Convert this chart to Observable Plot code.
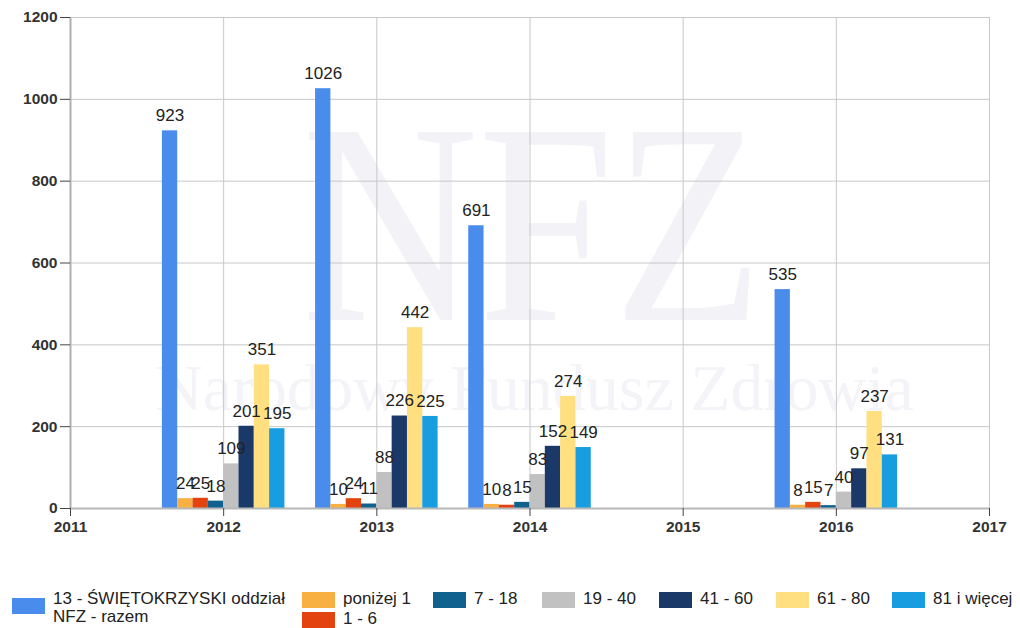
<!DOCTYPE html>
<html><head><meta charset="utf-8">
<script src="https://cdn.jsdelivr.net/npm/d3@7"></script>
<script src="https://cdn.jsdelivr.net/npm/@observablehq/plot@0.6"></script>
<style>
body{margin:0;background:#fff;font-family:"Liberation Sans",Arial,sans-serif;}
#wrap{position:relative;width:1020px;height:628px;overflow:hidden;}
#wm{position:absolute;left:0;top:0;width:1020px;height:560px;z-index:0;pointer-events:none;}
#wm .nfz{position:absolute;left:302px;top:80px;font-family:"Liberation Serif","DejaVu Serif",serif;font-size:287px;line-height:1;color:#f2f2f7;transform:scaleX(0.85);transform-origin:left top;white-space:nowrap;}
#wm .full{position:absolute;left:155px;top:355px;font-family:"Liberation Serif","DejaVu Serif",serif;font-size:66px;line-height:1;color:#f3f3f8;white-space:nowrap;}
#chart{position:absolute;left:0;top:0;z-index:1;}
#legend{position:absolute;left:0;top:590px;width:1020px;font-size:17px;color:#222;z-index:2;}
.li{position:absolute;display:flex;align-items:flex-start;line-height:18px;}
.sw{width:33px;height:16px;margin-right:8px;margin-top:2px;flex:none;}
</style></head><body>
<div id="wrap">
  <div id="wm"><div class="nfz">NFZ</div><div class="full">Narodowy Fundusz Zdrowia</div></div>
  <div id="chart"></div>
  <div id="legend"></div>
</div>
<script>
const years = [2012, 2013, 2014, 2016];
const seriesNames = ["13 - ŚWIĘTOKRZYSKI oddział NFZ - razem", "poniżej 1", "1 - 6", "7 - 18", "19 - 40", "41 - 60", "61 - 80", "81 i więcej"];
const seriesColors = ["#4a8cec", "#f9b043", "#e2430f", "#10618e", "#c1c1c1", "#1a3868", "#ffdf80", "#189de0"];
const razem    = [923, 1026, 691, 535];
const ponizej1 = [24, 10, 10, 8];
const age1_6   = [25, 24, 8, 15];
const age7_18  = [18, 11, 15, 7];
const age19_40 = [109, 88, 83, 40];
const age41_60 = [201, 226, 152, 97];
const age61_80 = [351, 442, 274, 237];
const age81    = [195, 225, 149, 131];
const yTicks = [0, 200, 400, 600, 800, 1000, 1200];
const xTicks = [2011, 2012, 2013, 2014, 2015, 2016, 2017];

const seriesValues = [razem, ponizej1, age1_6, age7_18, age19_40, age41_60, age61_80, age81];
const rows = [];
seriesValues.forEach((vals, si) => {
  years.forEach((yr, yi) => rows.push({year: yr, s: si, name: seriesNames[si], value: vals[yi]}));
});
const bw = 0.1;

const chart = Plot.plot({
  width: 1020,
  height: 560,
  marginLeft: 70,
  marginRight: 31,
  marginTop: 17,
  marginBottom: 52,
  style: {background: "transparent", fontFamily: "Liberation Sans, Arial, sans-serif"},
  x: {domain: [2011, 2017], ticks: xTicks, tickFormat: "d", label: null},
  y: {domain: [0, 1200], ticks: yTicks, tickFormat: "d", label: null},
  color: {domain: seriesNames, range: seriesColors},
  marks: [
    Plot.gridY(yTicks, {stroke: "#c8c8c8", strokeOpacity: 1, strokeWidth: 1}),
    Plot.gridX(xTicks, {stroke: "#c8c8c8", strokeOpacity: 1, strokeWidth: 1}),
    Plot.rectY(rows, {
      x1: d => d.year + (d.s - 4) * bw,
      x2: d => d.year + (d.s - 3) * bw,
      y1: 0, y2: "value", fill: "name"
    }),
    Plot.text(rows, {
      x: d => d.year + (d.s - 3.5) * bw,
      y: "value", text: d => String(d.value),
      dy: -15, fontSize: 17, fill: "#222"
    }),
    Plot.ruleY([0], {stroke: "#b8b8b8", strokeWidth: 2}),
    Plot.ruleX([2011], {stroke: "#b0b0b0", strokeWidth: 2}),
    Plot.axisY(yTicks, {tickSize: 10, stroke: "#444", tickPadding: 3, fontSize: 15.5, fontWeight: "bold", fill: "#333", tickFormat: "d", label: null}),
    Plot.axisX(xTicks, {tickSize: 8, stroke: "#444", tickPadding: 4, fontSize: 15.5, fontWeight: "bold", fill: "#333", tickFormat: "d", label: null})
  ]
});
document.getElementById("chart").appendChild(chart);

// legend
const legendPos = [
  {left: 12, top: 0}, {left: 302, top: 0}, {left: 302, top: 20}, {left: 433, top: 0},
  {left: 542, top: 0}, {left: 659, top: 0}, {left: 776, top: 0}, {left: 892, top: 0}
];
const legend = document.getElementById("legend");
seriesNames.forEach((n, i) => {
  const it = document.createElement("div");
  it.className = "li";
  it.style.left = legendPos[i].left + "px";
  it.style.top = legendPos[i].top + "px";
  const sw = document.createElement("div");
  sw.className = "sw";
  sw.style.background = seriesColors[i];
  if (i === 0) sw.style.marginTop = "8px";
  const tx = document.createElement("div");
  if (i === 0) { tx.innerHTML = "13 - ŚWIĘTOKRZYSKI oddział<br>NFZ - razem"; }
  else tx.textContent = n;
  it.appendChild(sw); it.appendChild(tx);
  legend.appendChild(it);
});
</script>
</body></html>
